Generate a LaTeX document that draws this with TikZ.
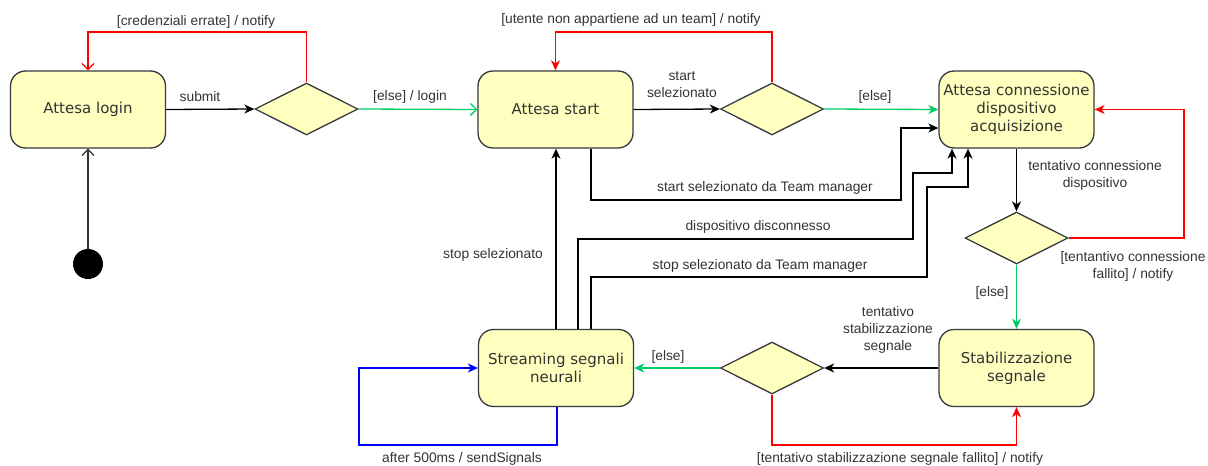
\documentclass[tikz,border=0pt]{standalone}
\usepackage{fontspec}
\usetikzlibrary{shapes.geometric,arrows.meta}
\newfontfamily\statefont{DejaVu Sans}
\newfontfamily\edgefont{Liberation Sans}
\definecolor{txt}{HTML}{333333}
\definecolor{statefill}{HTML}{FFFFC0}
\definecolor{stateline}{HTML}{36393D}
\definecolor{okgreen}{HTML}{00CC66}
\definecolor{failred}{HTML}{FF0000}
\definecolor{loopblue}{HTML}{0000FF}
\tikzset{
  state/.style={draw=stateline, fill=statefill, rounded corners=15pt, line width=1.3pt,
    minimum width=155pt, minimum height=77pt, inner sep=2pt, align=center,
    text=txt, font=\statefont\fontsize{15}{18}\selectfont},
  choice/.style={draw=stateline, fill=statefill, diamond, line width=1.3pt,
    minimum width=103pt, minimum height=52pt, inner sep=0pt, aspect=2},
  startdot/.style={circle, fill=black, minimum size=30pt, inner sep=0pt},
  lbl/.style={text=txt, align=center, inner sep=0pt, font=\edgefont\fontsize{13.8}{17}\selectfont},
  flow/.style={line width=1.3pt, -{Stealth[length=10pt,width=9pt,inset=3pt]}},
  openflow/.style={line width=1.3pt, -{Straight Barb[length=6pt,width=12pt]}},
}
\begin{document}
\begin{tikzpicture}[x=1pt, y=-1pt]
\useasboundingbox (0,0) rectangle (1208,466);

% states and choice points
\node[state]  (login)  at (88,109.5)    {Attesa login};
\node[choice] (dec1)   at (306.5,109)   {};
\node[state]  (start)  at (555.5,109.5) {Attesa start};
\node[choice] (dec2)   at (772,109)     {};
\node[state]  (conn)   at (1016.5,109.5) {Attesa connessione\\dispositivo\\acquisizione};
\node[choice] (dec3)   at (1016.5,238)  {};
\node[state]  (stab)   at (1016.5,368)  {Stabilizzazione\\segnale};
\node[choice] (dec4)   at (772,368)     {};
\node[state]  (stream) at (556,368)     {Streaming segnali\\neurali};
\node[startdot] (init) at (88,264)      {};

% initial transition
\draw[openflow, draw=txt] (init.north) -- (login.south);

% login
\draw[flow] (login.east) -- (dec1.west);
\node[lbl] (lsubmit) at (200,97) {submit};
\draw[openflow, failred] (dec1.north) |- (196,32) -| (login.north);
\node[lbl] (lcred) at (196,22) {[credenziali errate] / notify};
\draw[openflow, okgreen] (dec1.east) -- (start.west);
\node[lbl] (llogin) at (410,97) {[else] / login};

% start
\draw[flow] (start.east) -- (dec2.west);
\node[lbl] (lstart) at (682,85) {start\\selezionato};
\draw[flow, failred] (dec2.north) |- (660,32) -| (start.north);
\node[lbl] (lteam) at (631,20) {[utente non appartiene ad un team] / notify};
\draw[flow, okgreen] (dec2.east) -- (conn.west);
\node[lbl] (lelse1) at (875,97) {[else]};

% start chosen by the team manager
\draw[flow] ([xshift=35.5pt]start.south) |- (901,200) |- ([yshift=-18.5pt]conn.west);
\node[lbl] (lstm) at (765,188) {start selezionato da Team manager};

% back from streaming
\draw[flow] ([xshift=22pt]stream.north) |- (913,239) |- (952,173) -- ([xshift=-64.5pt]conn.south);
\node[lbl] (ldisc) at (758,227) {dispositivo disconnesso};
\draw[flow] ([xshift=35pt]stream.north) |- (927,277) |- (968,187) -- ([xshift=-48.5pt]conn.south);
\node[lbl] (lstoptm) at (760,266) {stop selezionato da Team manager};
\draw[flow] (stream.north) -- (stream.north |- start.south);
\node[lbl] (lstop) at (493,255) {stop selezionato};

% device connection
\draw[flow] (conn.south) -- (dec3.north);
\node[lbl] (lconn) at (1095,175) {tentativo connessione\\dispositivo};
\draw[flow, failred] (dec3.east) -- (1184,238) |- (conn.east);
\node[lbl] (lconnko) at (1133,266) {[tentantivo connessione\\fallito] / notify};
\draw[flow, okgreen] (dec3.south) -- (stab.north);
\node[lbl] (lelse2) at (992,293) {[else]};

% signal stabilisation
\draw[flow] (stab.west) -- (dec4.east);
\node[lbl] (lstab) at (888,330) {tentativo\\stabilizzazione\\segnale};
\draw[flow, failred] (dec4.south) |- (900,445) -| (stab.south);
\node[lbl] (lstabko) at (900,459) {[tentativo stabilizzazione segnale fallito] / notify};
\draw[flow, okgreen] (dec4.west) -- (stream.east);
\node[lbl] (lelse3) at (668,357) {[else]};

% streaming loop
\draw[flow, loopblue] ([xshift=1pt]stream.south) |- (359,445) |- (stream.west);
\node[lbl] (lsend) at (462,459) {after 500ms / sendSignals};
\end{tikzpicture}
\end{document}
